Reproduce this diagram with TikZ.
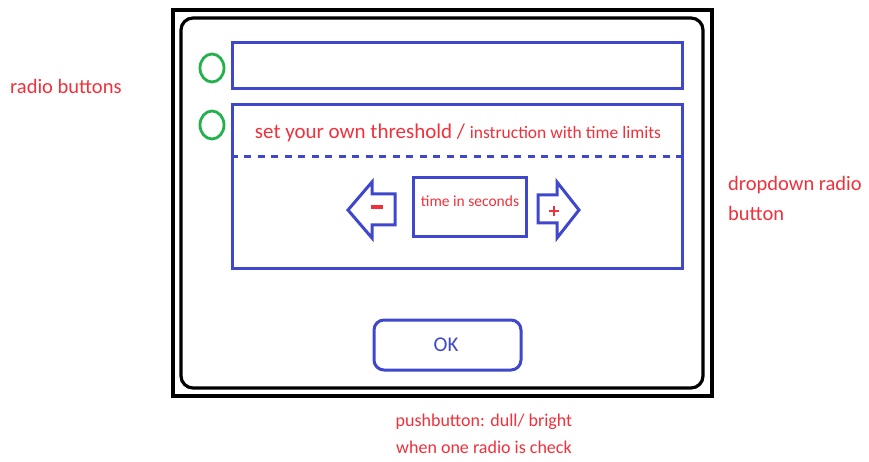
\documentclass[tikz,border=0pt]{standalone}
\usepackage{fontspec}
\setmainfont{Carlito}
\definecolor{ured}{HTML}{F0303A}
\definecolor{ublue}{HTML}{3F48CC}
\definecolor{ugreen}{HTML}{22B14C}
\begin{document}
\begin{tikzpicture}[x=1pt,y=-1pt,
  lbl/.style={text=ured,font=\fontsize{20.5}{24}\selectfont,inner sep=0pt},
  lblsmall/.style={text=ured,font=\fontsize{18}{22}\selectfont,inner sep=0pt},
  bbox/.style={draw=ublue,line width=3pt},
  arr/.style={draw=ublue,line width=3pt,line join=miter}]
\useasboundingbox (0,0) rectangle (869,462);
% frames
\draw[line width=3.2pt] (173,10) rectangle (712,396);
\draw[line width=3.2pt,rounded corners=12pt] (181,18) rectangle (703,388);
% top option
\draw[draw=ugreen,line width=2.8pt] (212,68) ellipse (12 and 14);
\node[bbox,minimum width=450,minimum height=46,inner sep=0pt] (box1) at (457,66) {};
% second option
\draw[draw=ugreen,line width=2.8pt] (212,125) ellipse (12 and 14);
\node[bbox,minimum width=450,minimum height=163,inner sep=0pt] (box2) at (457,186.5) {};
\draw[ublue,line width=3pt,dash pattern=on 7pt off 6.5pt] (box2.west |- 0,157) -- (box2.east |- 0,157);
\node[text=ured,inner sep=0pt,anchor=base] (thr) at (458,139) {\fontsize{21}{24}\selectfont set your own threshold / \fontsize{17.5}{20}\selectfont instruction with time limits};
% time box
\node[bbox,minimum width=113,minimum height=59,inner sep=0pt] (tbox) at (470,207.5) {};
\node[text=ured,font=\fontsize{15.5}{18}\selectfont,inner sep=0pt] (tsec) at (470,201) {time in seconds};
% arrows
\draw[arr] (348,210) -- (372,182) -- (372,194) -- (395,194) -- (395,225) -- (372,225) -- (372,238) -- cycle;
\draw[arr] (579,210) -- (557,182) -- (557,195) -- (538,195) -- (538,223) -- (557,223) -- (557,238) -- cycle;
\draw[ured,line width=3.5pt] (371,207) -- (383,207);
\draw[ured,line width=2.6pt] (549,211) -- (559,211) (554,206) -- (554,216);
% OK button
\draw[draw=ublue,line width=3pt,rounded corners=10pt] (374,320) rectangle (521,370);
\node[text=ublue,font=\fontsize{21}{24}\selectfont,inner sep=0pt] (ok) at (446,345) {OK};
% labels
\node[lbl,anchor=west] (rb) at (10,86) {radio buttons};
\node[lbl,anchor=west] (dd1) at (728,185) {dropdown radio};
\node[lbl,anchor=west] (dd2) at (728,213) {button};
\node[lblsmall] (pb1) at (484,422) {pushbutton: dull/ bright};
\node[lblsmall] (pb2) at (484,447) {when one radio is check};
\end{tikzpicture}
\end{document}
